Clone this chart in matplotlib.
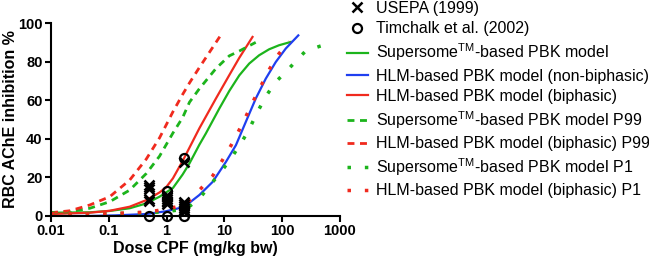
import matplotlib
matplotlib.use("Agg")
import matplotlib.pyplot as plt
from matplotlib.ticker import NullLocator, FixedLocator, FixedFormatter

plt.rcParams['font.family'] = 'Liberation Sans'
plt.rcParams['mathtext.fontset'] = 'custom'
plt.rcParams['mathtext.rm'] = 'Liberation Sans'
plt.rcParams['mathtext.it'] = 'Liberation Sans:italic'
plt.rcParams['mathtext.bf'] = 'Liberation Sans:bold'

# ---- data ----
# measured data
usepa_dose = [0.5, 0.5, 0.5, 0.5, 0.5, 1, 1, 1, 1, 1, 1, 2, 2, 2, 2, 2, 2, 2]
usepa_inh = [16, 15, 14, 9, 8, 11, 10, 9, 8, 7, 6, 28, 7, 6, 5, 4, 3, 2]
timchalk_dose = [0.5, 1, 1, 2, 2, 2]
timchalk_inh = [0, 0, 13, 0, 30, 4]

# model curves (dose mg/kg bw, % inhibition)
sup_dose = [0.01, 0.047, 0.104, 0.23, 0.446, 0.757, 1.29, 1.9, 2.5, 3.71,
            4.8, 8.2, 12.2, 18.2, 27, 40.1, 59.7, 88.7, 141]
sup_inh = [1.7, 1.9, 2.6, 4, 6.5, 10, 14.5, 21.5, 27.3, 37,
           42.8, 55.7, 64.8, 72.9, 79, 83.3, 86.4, 88.5, 90.2]

hlm_nb_dose = [0.01, 0.047, 0.128, 0.446, 0.96, 1.9, 2.5, 3.71, 6.3, 10.7,
               15.9, 23.6, 35.1, 52.3, 77.8, 116, 191]
hlm_nb_inh = [0, 0, 0.3, 1, 2.4, 4.5, 6.9, 10.9, 17.7, 28.1,
              36.7, 48.8, 60.9, 71.2, 79.8, 86.8, 93.6]

hlm_b_dose = [0.01, 0.047, 0.104, 0.23, 0.446, 0.757, 0.98, 1.29, 1.9, 3.71,
              7.2, 12.2, 18.2, 30.8]
hlm_b_inh = [1, 1.7, 2.7, 4.8, 8.2, 12.2, 14.8, 19.5, 28.5, 45.5,
             61, 73, 82, 92.8]

sup_p99_dose = [0.01, 0.0213, 0.047, 0.104, 0.23, 0.446, 0.757, 1.29, 1.9, 2.5,
                3.71, 7.2, 12.2, 18.2, 35]
sup_p99_inh = [1.7, 2.2, 4, 7.4, 13.4, 22, 31, 43, 51, 59,
               66, 76.5, 83, 85.5, 90]

hlm_p99_dose = [0.01, 0.0213, 0.047, 0.104, 0.23, 0.446, 0.757, 1.29, 1.9, 2.5,
                3.71, 8.5]
hlm_p99_inh = [1.7, 2.7, 5.7, 10, 18.6, 29.5, 40.5, 54, 63, 69,
               77, 93.3]

sup_p1_dose = [0.01, 0.07, 0.446, 0.96, 1.9, 2.5, 3.71, 5.5, 8.8, 13,
               19.4, 27, 37.6, 53.7, 77.8, 119, 191, 256, 464, 700]
sup_p1_inh = [1.7, 1, 1.7, 2.2, 3.4, 5, 9, 15.5, 22.9, 29.8,
              37.6, 45, 54, 62.5, 69.5, 75, 81.6, 85.5, 88.1, 89.7]

hlm_p1_dose = [0.01, 0.07, 0.446, 0.96, 1.9, 2.5, 3.96, 6.3, 9.1, 13,
               17.7, 24.3, 32.9, 44.6, 61.3, 88.7, 136]
hlm_p1_inh = [1.3, 1, 2, 3.4, 5.5, 8, 14.3, 20.8, 28.5, 36.4,
              44, 52.3, 60.5, 68.3, 76.4, 84.2, 90.5]

xticks = [0.01, 0.1, 1, 10, 100, 1000]
xticklabels = ['0.01', '0.1', '1', '10', '100', '1000']
yticks = [0, 20, 40, 60, 80, 100]

green = '#1cb41c'
blue = '#1f3ff0'
red = '#f02a1e'

fig = plt.figure(figsize=(6.49, 2.65), dpi=100)
ax = fig.add_axes([0.0786, 0.185, 0.445, 0.728])

ax.plot(usepa_dose, usepa_inh, 'x', color='black', ms=6.5, mew=1.8, clip_on=False,
        label='USEPA (1999)', zorder=5)
ax.plot(timchalk_dose, timchalk_inh, 'o', mfc='none', mec='black', ms=6.5, mew=1.6,
        clip_on=False, label='Timchalk et al. (2002)', zorder=5)

sup = 'Supersome$^{\\mathrm{TM}}$-based PBK model'
ax.plot(sup_dose, sup_inh, '-', color=green, lw=1.6, label=sup)
ax.plot(hlm_nb_dose, hlm_nb_inh, '-', color=blue, lw=1.6,
        label='HLM-based PBK model (non-biphasic)')
ax.plot(hlm_b_dose, hlm_b_inh, '-', color=red, lw=1.6,
        label='HLM-based PBK model (biphasic)')
ax.plot(sup_p99_dose, sup_p99_inh, color=green, lw=2, ls=(0, (2.5, 2)),
        label=sup + ' P99')
ax.plot(hlm_p99_dose, hlm_p99_inh, color=red, lw=2, ls=(0, (2.5, 2)),
        label='HLM-based PBK model (biphasic) P99')
ax.plot(sup_p1_dose, sup_p1_inh, color=green, lw=2.5, ls=(0, (1, 4)),
        label=sup + ' P1')
ax.plot(hlm_p1_dose, hlm_p1_inh, color=red, lw=2.5, ls=(0, (1, 4)),
        label='HLM-based PBK model (biphasic) P1')

ax.set_xscale('log')
ax.set_xlim(0.01, 1000)
ax.set_ylim(0, 100)
ax.xaxis.set_major_locator(FixedLocator(xticks))
ax.xaxis.set_major_formatter(FixedFormatter(xticklabels))
ax.xaxis.set_minor_locator(NullLocator())
ax.set_yticks(yticks)

for s in ['top', 'right']:
    ax.spines[s].set_visible(False)
for s in ['left', 'bottom']:
    ax.spines[s].set_linewidth(1.5)
ax.tick_params(width=1.5, length=4, labelsize=10.5, pad=2)
for lab in ax.get_xticklabels() + ax.get_yticklabels():
    lab.set_fontweight('bold')

ax.set_xlabel('Dose CPF (mg/kg bw)', fontsize=11.5, fontweight='bold', labelpad=2)
ax.set_ylabel('RBC AChE inhibition %', fontsize=11.5, fontweight='bold')
ax.yaxis.set_label_coords(-0.113, 0.5)

fig.legend(loc='upper left', bbox_to_anchor=(0.525, 1.02), frameon=False,
           fontsize=11.5, handlelength=1.3, handletextpad=0.5, labelspacing=0.33,
           borderaxespad=0)

fig.savefig('out.png', dpi=100)
